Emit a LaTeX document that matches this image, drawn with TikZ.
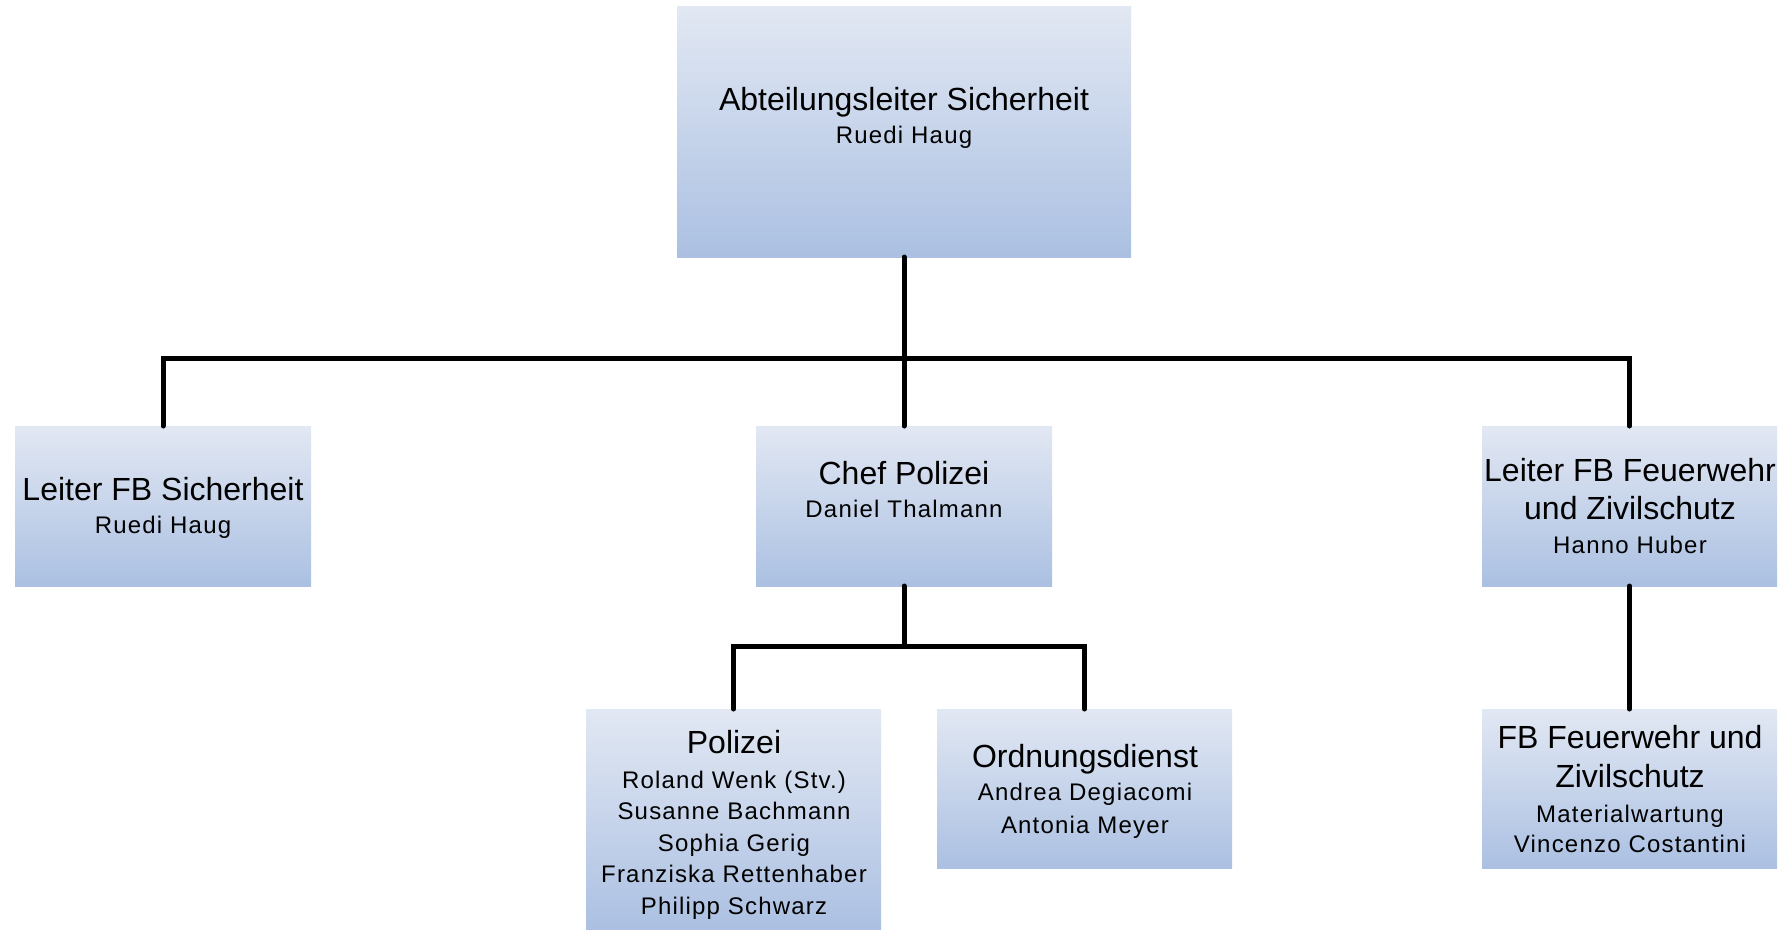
\documentclass[tikz,border=0pt]{standalone}
\usepackage{fontspec}
\setmainfont{Liberation Sans}
\newfontfamily\namefam[LetterSpace=5]{Liberation Sans}
\definecolor{boxtop}{HTML}{E2E8F3}
\definecolor{boxbot}{HTML}{ABC0E2}
\newcommand{\ttline}[2][38]{{\fontsize{32}{#1}\selectfont\spaceskip=0.278em\relax #2\par}}
\newcommand{\nmline}[2][31.6]{{\namefam\fontsize{24}{#1}\selectfont\spaceskip=0.33em\relax #2\par}}
\tikzset{
  orgbox/.style={draw=none, top color=boxtop, bottom color=boxbot, inner sep=0pt, outer sep=0pt, minimum width=296pt, minimum height=160pt},
  conn/.style={line width=5pt, line cap=round, black},
  lbl/.style={anchor=base, inner sep=0pt, text width=440pt, align=center}
}
\begin{document}
\begin{tikzpicture}[x=1pt, y=-1pt]
\fill[white] (0,0) rectangle (1792,930);
\useasboundingbox (0,0) rectangle (1792,930);

% boxes
\node[orgbox, minimum width=454pt, minimum height=251pt] (top) at (904,131.5) {};
\node[orgbox] (lfs) at (163,506) {};
\node[orgbox] (chef) at (904,506) {};
\node[orgbox, minimum width=295pt] (lfw) at (1629.5,506) {};
\node[orgbox, minimum width=295pt, minimum height=220pt] (pol) at (733.5,819) {};
\node[orgbox, minimum width=295pt, minimum height=159pt] (ord) at (1084.5,788.5) {};
\node[orgbox, minimum width=295pt, minimum height=159pt] (fbf) at (1629.5,788.5) {};

% texts
\node[lbl] (topt) at (904,110) {\ttline{Abteilungsleiter Sicherheit}\nmline[33]{Ruedi Haug}};
\node[lbl] (lfst) at (163,500) {\ttline{Leiter FB Sicherheit}\nmline[33]{Ruedi Haug}};
\node[lbl] (cheft) at (904,484) {\ttline{Chef Polizei}\nmline[33]{Daniel Thalmann}};
\node[lbl] (lfwt) at (1630,481) {\ttline{Leiter FB Feuerwehr}\ttline{und Zivilschutz}\nmline[34]{Hanno Huber}};
\node[lbl] (polt) at (734,753) {\ttline{Polizei}\nmline[35]{Roland Wenk (Stv.)}\nmline{Susanne Bachmann}\nmline{Sophia Gerig}\nmline{Franziska Rettenhaber}\nmline{Philipp Schwarz}};
\node[lbl] (ordt) at (1085,767) {\ttline{Ordnungsdienst}\nmline[33]{Andrea Degiacomi}\nmline[33]{Antonia Meyer}};
\node[lbl] (fbft) at (1630,748) {\ttline{FB Feuerwehr und}\ttline[39]{Zivilschutz}\nmline[35]{Materialwartung}\nmline[30.5]{Vincenzo Costantini}};

% connectors
\coordinate (bus) at (904,358);
\coordinate (pbus) at (904,646);
\draw[conn] (top.south) -- (chef.north);
\draw[conn] (lfs.north) |- (bus) -| (lfw.north);
\draw[conn] (chef.south) -- (pbus);
\draw[conn] (pol.north) |- (pbus) -| (ord.north);
\draw[conn] (lfw.south) -- (fbf.north);
\end{tikzpicture}
\end{document}
